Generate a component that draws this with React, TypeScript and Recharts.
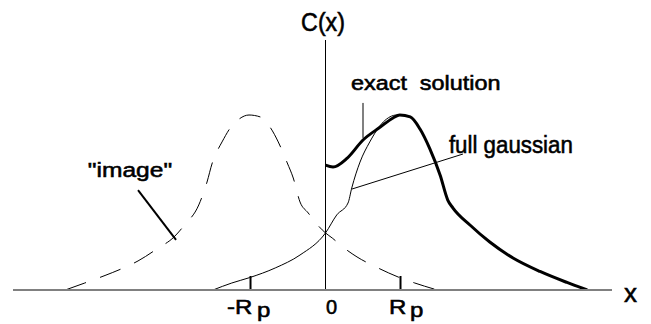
import { LineChart, Line, XAxis, YAxis, ReferenceLine, ReferenceDot } from "recharts";

// units: x in Rp, y relative to the gaussian peak
const imageX = [-3.47, -3.21, -2.94, -2.71, -2.5, -2.25, -2.02, -1.89, -1.69, -1.58, -1.51, -1.45, -1.38, -1.27, -1.17, -1.02, -0.87, -0.74, -0.63, -0.51, -0.43, -0.34, -0.23, -0.14, 0, 0.09, 0.23, 0.42, 0.7, 0.97, 1.19, 1.49];
const imageY = [0, 0.04, 0.083, 0.123, 0.166, 0.234, 0.303, 0.366, 0.486, 0.617, 0.726, 0.789, 0.846, 0.926, 0.971, 1.0, 0.989, 0.931, 0.846, 0.726, 0.64, 0.503, 0.44, 0.389, 0.326, 0.297, 0.246, 0.189, 0.126, 0.074, 0.04, 0];

const gaussX = [-1.5, -1.25, -1.01, -0.67, -0.34, 0, 0.15, 0.3, 0.35, 0.46, 0.59, 0.77, 0.95, 1.0];
const gaussY = [0, 0.04, 0.071, 0.126, 0.2, 0.326, 0.429, 0.497, 0.583, 0.731, 0.846, 0.96, 1.0, 1.0];

const exactX = [0, 0.1, 0.29, 0.5, 0.73, 0.9, 0.99, 1.13, 1.26, 1.39, 1.53, 1.63, 1.7, 1.93, 2.19, 2.5, 2.86, 3.22, 3.49];
const exactY = [0.714, 0.703, 0.754, 0.857, 0.931, 0.983, 1.0, 0.989, 0.92, 0.808, 0.654, 0.514, 0.468, 0.37, 0.274, 0.183, 0.106, 0.043, 0];

const tickValues = [-1, 0, 1];
const tickMain = ["-R", "0", "R"];
const tickSub = ["p", "", "p"];

const zip = (xs: number[], ys: number[]) => xs.map((x, i) => ({ x, y: ys[i] }));
const imageData = zip(imageX, imageY);
const gaussData = zip(gaussX, gaussY);
const exactData = zip(exactX, exactY);

const FONT = "'Liberation Sans', Arial, Helvetica, sans-serif";
const XMIN = -4.167;
const XMAX = 3.82;
const YMAX = 1.4286;
const TEXT_STROKE = 0.55;

const tickStyle = [
  { dx: -23.5, anchor: "start", sx: 1.2, subDx: 4 },
  { dx: 6, anchor: "middle", sx: 1, subDx: 0 },
  { dx: -11.5, anchor: "start", sx: 1.2, subDx: 3 },
];

function AxisTick(props: any) {
  const { x, y, payload } = props;
  const i = tickValues.indexOf(payload.value);
  if (i < 0) return null;
  const s = tickStyle[i];
  return (
    <g transform={`translate(${x + s.dx} ${y + 24}) scale(${s.sx} 1)`}>
      <text
        x={0}
        y={0}
        textAnchor={s.anchor}
        fontFamily={FONT}
        fontSize={20}
        fill="#000"
        stroke="#000"
        strokeWidth={TEXT_STROKE}
      >
        {tickMain[i]}
        {tickSub[i] ? (
          <tspan dx={s.subDx} dy={3}>
            {tickSub[i]}
          </tspan>
        ) : null}
      </text>
    </g>
  );
}

// annotation text, anchored in data coords
const notes = [
  { x: -0.033, y: 1.48, text: "C(x)", size: 25, sx: 0.93, anchor: "middle" },
  { x: 0.34, y: 1.143, text: "exact\u00a0\u00a0solution", size: 19.5, sx: 1.2, anchor: "start" },
  { x: 1.645, y: 0.783, text: "full gaussian", size: 24, sx: 0.93, anchor: "start" },
  { x: -3.17, y: 0.643, text: "\"image\"", size: 21, sx: 1.17, anchor: "start" },
  { x: 4.067, y: -0.069, text: "x", size: 26, sx: 1, anchor: "middle" },
];

function noteLabel(n: (typeof notes)[number]) {
  return (p: any) => {
    const vb = p.viewBox || p;
    const x = vb.x + (vb.width || 0) / 2;
    const y = vb.y + (vb.height || 0) / 2;
    return (
      <g transform={`translate(${x} ${y}) scale(${n.sx} 1)`}>
        <text
          x={0}
          y={0}
          textAnchor={n.anchor}
          fontFamily={FONT}
          fontSize={n.size}
          fill="#000"
          stroke="#000"
          strokeWidth={TEXT_STROKE}
        >
          {n.text}
        </text>
      </g>
    );
  };
}

export default function App() {
  return (
    <div style={{ position: "absolute", left: 0, top: 0, width: 651, height: 324, background: "#fff" }}>
      <LineChart width={651} height={324} margin={{ top: 40, right: 39, bottom: 0, left: 13 }}>
        <XAxis
          type="number"
          dataKey="x"
          domain={[XMIN, XMAX]}
          allowDataOverflow
          ticks={tickValues}
          interval={0}
          height={34}
          tickLine={false}
          tickSize={0}
          tickMargin={0}
          axisLine={{ stroke: "#808080", strokeWidth: 2 }}
          tick={<AxisTick />}
        />
        <YAxis type="number" domain={[0, YMAX]} allowDataOverflow hide />
        <ReferenceLine x={0} stroke="#000" strokeWidth={1} />
        <ReferenceLine segment={[{ x: -1, y: 0 }, { x: -1, y: 0.08 }]} stroke="#000" strokeWidth={2} />
        <ReferenceLine segment={[{ x: 1, y: 0 }, { x: 1, y: 0.08 }]} stroke="#000" strokeWidth={2} />
        <ReferenceLine segment={[{ x: 0.5, y: 1.069 }, { x: 0.5, y: 0.869 }]} stroke="#808080" strokeWidth={2} />
        <ReferenceLine segment={[{ x: 0.353, y: 0.577 }, { x: 1.833, y: 0.777 }]} stroke="#000" strokeWidth={1} />
        <ReferenceLine segment={[{ x: -2.5, y: 0.571 }, { x: -1.993, y: 0.286 }]} stroke="#000" strokeWidth={2} />
        <Line
          data={imageData}
          dataKey="y"
          type="monotone"
          stroke="#000"
          strokeWidth={1}
          strokeDasharray="22 15"
          dot={false}
          activeDot={false}
          isAnimationActive={false}
        />
        <Line
          data={gaussData}
          dataKey="y"
          type="monotone"
          stroke="#000"
          strokeWidth={1}
          dot={false}
          activeDot={false}
          isAnimationActive={false}
        />
        <Line
          data={exactData}
          dataKey="y"
          type="monotone"
          stroke="#000"
          strokeWidth={3}
          dot={false}
          activeDot={false}
          isAnimationActive={false}
        />
        {notes.map((n) => (
          <ReferenceDot
            key={n.text}
            x={n.x}
            y={n.y}
            r={0}
            fill="none"
            stroke="none"
            ifOverflow="visible"
            label={noteLabel(n)}
          />
        ))}
      </LineChart>
    </div>
  );
}
